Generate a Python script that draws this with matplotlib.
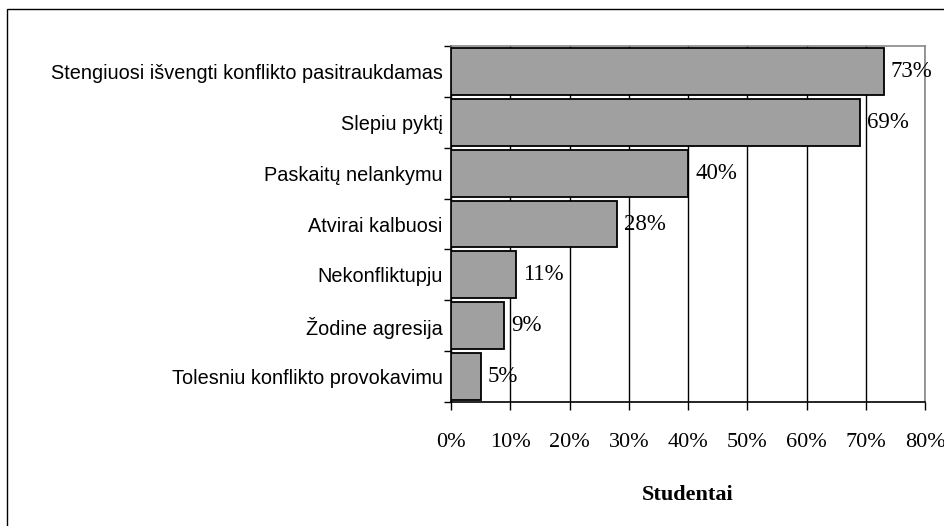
import numpy as np
import matplotlib.pyplot as plt
from matplotlib.patches import Rectangle

categories = [
    "Stengiuosi išvengti konflikto pasitraukdamas",
    "Slepiu pyktį",
    "Paskaitų nelankymu",
    "Atvirai kalbuosi",
    "Nekonfliktupju",
    "Žodine agresija",
    "Tolesniu konflikto provokavimu",
]
values = [73, 69, 40, 28, 11, 9, 5]
x_ticks = [0, 10, 20, 30, 40, 50, 60, 70, 80]
x_labels = [f"{t}%" for t in x_ticks]
x_title = "Studentai"

serif = "Liberation Serif"
sans = "Liberation Sans"

fig = plt.figure(figsize=(9.45, 5.26), dpi=100)
ax = fig.add_axes([451 / 945, 1 - 402 / 526, 474 / 945, 356 / 526])

# outer frame of the chart (only left/top edges visible in original)
fig.patches.append(Rectangle((7 / 945, -0.1), 1.2, 1 - 9 / 526 + 0.1,
                             transform=fig.transFigure, fill=False,
                             edgecolor="black", linewidth=1.0))

y = np.arange(len(categories))
ax.barh(y, values, height=0.92, color="#a0a0a0", edgecolor="black",
        linewidth=1.3, zorder=3)

for yi, v in zip(y, values):
    ax.text(v + 1.2, yi, f"{v}%", va="center", ha="left",
            fontfamily=serif, fontsize=16.5, zorder=4)

ax.set_xlim(0, 80)
ax.set_ylim(len(categories) - 0.5, -0.5)

ax.set_xticks(x_ticks)
ax.set_xticklabels(x_labels, fontfamily=serif, fontsize=16)
ax.set_yticks(y)
ax.set_yticklabels(categories, fontfamily=sans, fontsize=14.3)
ax.set_yticks(np.arange(-0.5, len(categories), 1.0), minor=True)

ax.tick_params(axis="y", which="major", length=0, pad=6)
ax.tick_params(axis="y", which="minor", length=5, width=1, direction="out")
ax.tick_params(axis="x", which="major", length=6, width=1, direction="out", pad=16)

ax.xaxis.grid(True, color="black", linewidth=1.0, zorder=0)
ax.set_axisbelow(True)

for side in ["top", "right"]:
    ax.spines[side].set_color("#888888")
    ax.spines[side].set_linewidth(1.2)
for side in ["left", "bottom"]:
    ax.spines[side].set_color("black")
    ax.spines[side].set_linewidth(1.2)

ax.set_xlabel(x_title, fontfamily=serif, fontsize=16, fontweight="bold",
              labelpad=24)

fig.savefig("out.png", dpi=100)
